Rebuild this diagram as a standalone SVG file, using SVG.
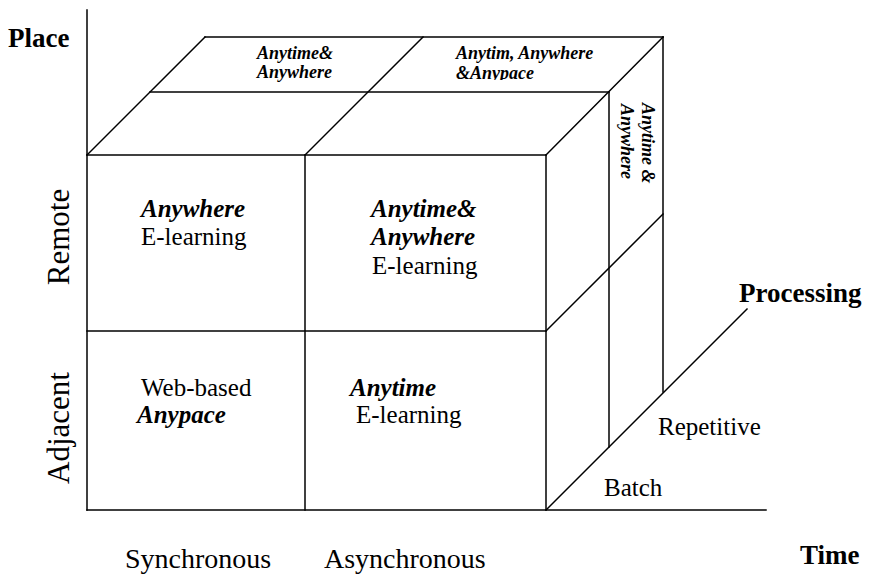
<svg xmlns="http://www.w3.org/2000/svg" width="871" height="579" viewBox="0 0 871 579">
  <style>
    .ln { stroke: #000; stroke-width: 1.5; fill: none; stroke-linecap: square; }
    text { font-family: "Liberation Serif", "Times New Roman", serif; fill: #000; }
    .lbl { font-size: 25px; }
    .axis { font-size: 28px; }
    .side { font-size: 31px; }
    .bold { font-size: 27px; font-weight: bold; }
    .bi { font-size: 25px; font-weight: bold; font-style: italic; }
    .small { font-size: 18px; font-weight: bold; font-style: italic; }
  </style>
  <defs>
    <clipPath id="topClip">
      <rect x="400" y="40" width="260" height="40"/>
    </clipPath>
  </defs>

  <!-- axes and cube edges -->
  <g id="connectors">
    <!-- Place axis and Time axis -->
    <line class="ln" x1="87" y1="10" x2="87" y2="510"/>
    <line class="ln" x1="87" y1="510" x2="766" y2="510"/>
    <!-- Processing axis -->
    <line class="ln" x1="546" y1="510" x2="747" y2="309"/>
    <!-- front face -->
    <line class="ln" x1="87" y1="155" x2="546" y2="155"/>
    <line class="ln" x1="87" y1="331" x2="546" y2="331"/>
    <line class="ln" x1="305" y1="155" x2="305" y2="510"/>
    <line class="ln" x1="546" y1="155" x2="546" y2="510"/>
    <!-- top face -->
    <line class="ln" x1="87" y1="155" x2="205" y2="37"/>
    <line class="ln" x1="305" y1="155" x2="423" y2="37"/>
    <line class="ln" x1="546" y1="155" x2="663" y2="37"/>
    <line class="ln" x1="205" y1="37" x2="663" y2="37"/>
    <line class="ln" x1="150" y1="92" x2="609" y2="92"/>
    <!-- right face -->
    <line class="ln" x1="609" y1="92" x2="609" y2="447"/>
    <line class="ln" x1="663" y1="37" x2="663" y2="392"/>
    <line class="ln" x1="546" y1="331" x2="663" y2="214"/>
  </g>

  <!-- axis labels -->
  <g id="axis-labels">
    <text class="bold" x="8" y="47">Place</text>
    <text class="side" text-anchor="middle" transform="translate(69,237) rotate(-90)">Remote</text>
    <text class="side" text-anchor="middle" transform="translate(69,428) rotate(-90)">Adjacent</text>
    <text class="axis" x="125" y="568">Synchronous</text>
    <text class="axis" x="324" y="568">Asynchronous</text>
    <text class="bold" x="800" y="564">Time</text>
    <text class="bold" x="739" y="302">Processing</text>
    <text class="lbl" x="658" y="435">Repetitive</text>
    <text class="lbl" x="604" y="496">Batch</text>
  </g>

  <!-- front face cells -->
  <g id="cell-remote-sync">
    <text class="bi" x="141" y="217">Anywhere</text>
    <text class="lbl" x="141" y="245">E-learning</text>
  </g>
  <g id="cell-remote-async">
    <text class="bi" x="371" y="217">Anytime&amp;</text>
    <text class="bi" x="371" y="245">Anywhere</text>
    <text class="lbl" x="372" y="274">E-learning</text>
  </g>
  <g id="cell-adjacent-sync">
    <text class="lbl" x="141" y="396">Web-based</text>
    <text class="bi" x="137" y="423">Anypace</text>
  </g>
  <g id="cell-adjacent-async">
    <text class="bi" x="350" y="396">Anytime</text>
    <text class="lbl" x="356" y="423">E-learning</text>
  </g>

  <!-- top face cells -->
  <g id="top-sync">
    <text class="small" x="257" y="59">Anytime&amp;</text>
    <text class="small" x="257" y="78">Anywhere</text>
  </g>
  <g id="top-async" clip-path="url(#topClip)">
    <text class="small" x="456" y="59">Anytim, Anywhere</text>
    <text class="small" x="456" y="79">&amp;Anypace</text>
  </g>

  <!-- right face cell -->
  <g id="right-top">
    <text class="small" transform="translate(642,103) rotate(90)">Anytime &amp;</text>
    <text class="small" transform="translate(621,104) rotate(90)">Anywhere</text>
  </g>
</svg>
